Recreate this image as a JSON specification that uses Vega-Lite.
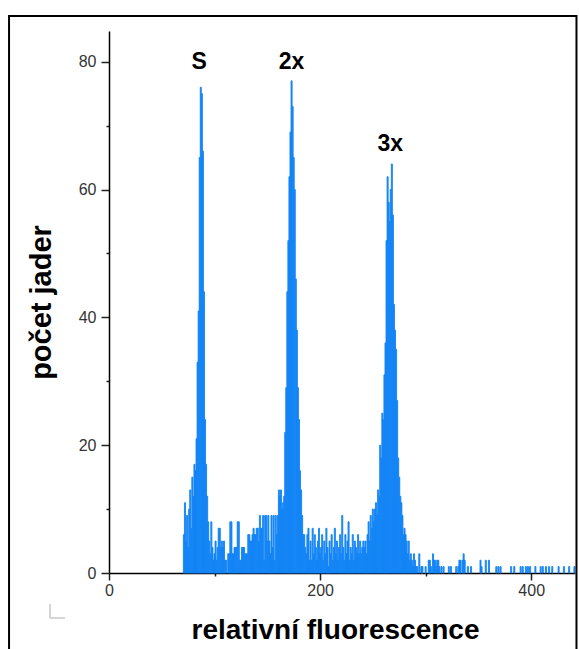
{
  "$schema": "https://vega.github.io/schema/vega-lite/v6.json",
  "width": 466,
  "height": 542,
  "autosize": {"type": "pad"},
  "padding": {"left": 8, "top": 14, "right": 0, "bottom": 0},
  "background": "white",
  "config": {
    "view": {"stroke": null},
    "font": "Liberation Sans",
    "axis": {
      "grid": false,
      "domainColor": "black",
      "domainWidth": 1.5,
      "tickColor": "#222",
      "tickWidth": 1.5,
      "labelFont": "Liberation Sans",
      "labelFontSize": 16,
      "labelColor": "#333",
      "labelFlush": false,
      "labelOverlap": false,
      "titleFont": "Liberation Sans",
      "titleFontSize": 28,
      "titleFontWeight": "bold",
      "titleColor": "black"
    }
  },
  "datasets": {
    "histogram": [
      {"ch": 70, "n": 6}, {"ch": 71, "n": 11}, {"ch": 72, "n": 5}, {"ch": 73, "n": 9}, {"ch": 74, "n": 4},
      {"ch": 75, "n": 10}, {"ch": 76, "n": 13}, {"ch": 77, "n": 7}, {"ch": 78, "n": 15}, {"ch": 79, "n": 12},
      {"ch": 80, "n": 17}, {"ch": 81, "n": 16}, {"ch": 82, "n": 21}, {"ch": 83, "n": 33}, {"ch": 84, "n": 41},
      {"ch": 85, "n": 65}, {"ch": 86, "n": 76}, {"ch": 87, "n": 75}, {"ch": 88, "n": 66}, {"ch": 89, "n": 44},
      {"ch": 90, "n": 24}, {"ch": 91, "n": 17}, {"ch": 92, "n": 12}, {"ch": 93, "n": 8}, {"ch": 94, "n": 5},
      {"ch": 95, "n": 3}, {"ch": 96, "n": 8}, {"ch": 97, "n": 4}, {"ch": 98, "n": 2}, {"ch": 99, "n": 3},
      {"ch": 100, "n": 5}, {"ch": 101, "n": 2}, {"ch": 102, "n": 4}, {"ch": 103, "n": 7}, {"ch": 104, "n": 7},
      {"ch": 105, "n": 4}, {"ch": 106, "n": 5}, {"ch": 107, "n": 4}, {"ch": 108, "n": 5}, {"ch": 109, "n": 2},
      {"ch": 110, "n": 2}, {"ch": 112, "n": 3}, {"ch": 113, "n": 3}, {"ch": 114, "n": 8},
      {"ch": 115, "n": 8}, {"ch": 116, "n": 3}, {"ch": 117, "n": 3}, {"ch": 118, "n": 4}, {"ch": 119, "n": 4},
      {"ch": 120, "n": 4}, {"ch": 121, "n": 8}, {"ch": 122, "n": 8}, {"ch": 123, "n": 2}, {"ch": 124, "n": 2},
      {"ch": 125, "n": 4}, {"ch": 126, "n": 4}, {"ch": 127, "n": 4}, {"ch": 128, "n": 3}, {"ch": 129, "n": 3},
      {"ch": 130, "n": 3}, {"ch": 131, "n": 6}, {"ch": 132, "n": 6}, {"ch": 133, "n": 5}, {"ch": 134, "n": 5},
      {"ch": 135, "n": 6}, {"ch": 136, "n": 7}, {"ch": 137, "n": 6}, {"ch": 138, "n": 6}, {"ch": 139, "n": 7},
      {"ch": 140, "n": 7}, {"ch": 141, "n": 5}, {"ch": 142, "n": 9}, {"ch": 143, "n": 7}, {"ch": 144, "n": 7},
      {"ch": 145, "n": 9}, {"ch": 146, "n": 2}, {"ch": 147, "n": 9}, {"ch": 148, "n": 9}, {"ch": 149, "n": 5},
      {"ch": 150, "n": 9}, {"ch": 151, "n": 5}, {"ch": 152, "n": 3}, {"ch": 153, "n": 9}, {"ch": 154, "n": 4},
      {"ch": 155, "n": 9}, {"ch": 156, "n": 2}, {"ch": 157, "n": 9}, {"ch": 158, "n": 6}, {"ch": 159, "n": 9},
      {"ch": 160, "n": 13}, {"ch": 161, "n": 12}, {"ch": 162, "n": 13}, {"ch": 163, "n": 10}, {"ch": 164, "n": 11},
      {"ch": 165, "n": 12}, {"ch": 166, "n": 22}, {"ch": 167, "n": 29}, {"ch": 168, "n": 44}, {"ch": 169, "n": 52},
      {"ch": 170, "n": 62}, {"ch": 171, "n": 69}, {"ch": 172, "n": 77}, {"ch": 173, "n": 73}, {"ch": 174, "n": 65},
      {"ch": 175, "n": 60}, {"ch": 176, "n": 46}, {"ch": 177, "n": 38}, {"ch": 178, "n": 29}, {"ch": 179, "n": 24},
      {"ch": 180, "n": 16}, {"ch": 181, "n": 13}, {"ch": 182, "n": 9}, {"ch": 183, "n": 6}, {"ch": 184, "n": 6},
      {"ch": 185, "n": 4}, {"ch": 186, "n": 3}, {"ch": 187, "n": 6}, {"ch": 188, "n": 7}, {"ch": 189, "n": 2},
      {"ch": 190, "n": 5}, {"ch": 191, "n": 2}, {"ch": 192, "n": 7}, {"ch": 193, "n": 3}, {"ch": 194, "n": 6},
      {"ch": 195, "n": 4}, {"ch": 196, "n": 2}, {"ch": 197, "n": 5}, {"ch": 198, "n": 7}, {"ch": 199, "n": 3},
      {"ch": 200, "n": 4}, {"ch": 201, "n": 6}, {"ch": 202, "n": 2}, {"ch": 203, "n": 5}, {"ch": 204, "n": 3},
      {"ch": 205, "n": 7}, {"ch": 206, "n": 4}, {"ch": 207, "n": 1}, {"ch": 208, "n": 5}, {"ch": 209, "n": 3},
      {"ch": 210, "n": 6}, {"ch": 211, "n": 2}, {"ch": 212, "n": 4}, {"ch": 213, "n": 7}, {"ch": 214, "n": 3},
      {"ch": 215, "n": 5}, {"ch": 216, "n": 2}, {"ch": 217, "n": 4}, {"ch": 218, "n": 6}, {"ch": 219, "n": 3},
      {"ch": 220, "n": 9}, {"ch": 221, "n": 4}, {"ch": 222, "n": 2}, {"ch": 223, "n": 6}, {"ch": 224, "n": 3},
      {"ch": 225, "n": 5}, {"ch": 226, "n": 8}, {"ch": 227, "n": 2}, {"ch": 228, "n": 4}, {"ch": 229, "n": 3},
      {"ch": 230, "n": 6}, {"ch": 231, "n": 2}, {"ch": 232, "n": 5}, {"ch": 233, "n": 4}, {"ch": 234, "n": 3},
      {"ch": 235, "n": 6}, {"ch": 236, "n": 3}, {"ch": 237, "n": 5}, {"ch": 238, "n": 3}, {"ch": 239, "n": 4},
      {"ch": 240, "n": 5}, {"ch": 241, "n": 4}, {"ch": 242, "n": 5}, {"ch": 243, "n": 3}, {"ch": 244, "n": 6},
      {"ch": 245, "n": 8}, {"ch": 246, "n": 5}, {"ch": 247, "n": 9}, {"ch": 248, "n": 7}, {"ch": 249, "n": 10},
      {"ch": 250, "n": 8}, {"ch": 251, "n": 10}, {"ch": 252, "n": 11}, {"ch": 253, "n": 9}, {"ch": 254, "n": 13},
      {"ch": 255, "n": 12}, {"ch": 256, "n": 20}, {"ch": 257, "n": 18}, {"ch": 258, "n": 25}, {"ch": 259, "n": 24},
      {"ch": 260, "n": 31}, {"ch": 261, "n": 36}, {"ch": 262, "n": 52}, {"ch": 263, "n": 62}, {"ch": 264, "n": 58},
      {"ch": 265, "n": 55}, {"ch": 266, "n": 60}, {"ch": 267, "n": 64}, {"ch": 268, "n": 56}, {"ch": 269, "n": 42},
      {"ch": 270, "n": 38}, {"ch": 271, "n": 35}, {"ch": 272, "n": 27}, {"ch": 273, "n": 18}, {"ch": 274, "n": 15},
      {"ch": 275, "n": 12}, {"ch": 276, "n": 11}, {"ch": 277, "n": 9}, {"ch": 278, "n": 6}, {"ch": 279, "n": 7},
      {"ch": 280, "n": 6}, {"ch": 281, "n": 5}, {"ch": 282, "n": 3}, {"ch": 283, "n": 5}, {"ch": 284, "n": 2},
      {"ch": 285, "n": 3}, {"ch": 286, "n": 2}, {"ch": 287, "n": 1}, {"ch": 288, "n": 3}, {"ch": 289, "n": 2},
      {"ch": 290, "n": 1}, {"ch": 291, "n": 1}, {"ch": 293, "n": 3}, {"ch": 295, "n": 1}, {"ch": 296, "n": 1},
      {"ch": 299, "n": 1}, {"ch": 302, "n": 2}, {"ch": 303, "n": 2}, {"ch": 304, "n": 1}, {"ch": 306, "n": 3},
      {"ch": 307, "n": 2}, {"ch": 308, "n": 2}, {"ch": 309, "n": 1}, {"ch": 310, "n": 2}, {"ch": 311, "n": 2},
      {"ch": 312, "n": 1}, {"ch": 314, "n": 1}, {"ch": 316, "n": 1}, {"ch": 321, "n": 1}, {"ch": 323, "n": 1},
      {"ch": 328, "n": 1}, {"ch": 330, "n": 1}, {"ch": 331, "n": 2}, {"ch": 332, "n": 2}, {"ch": 334, "n": 2},
      {"ch": 335, "n": 3}, {"ch": 336, "n": 2}, {"ch": 339, "n": 1}, {"ch": 342, "n": 1}, {"ch": 351, "n": 2},
      {"ch": 352, "n": 1}, {"ch": 356, "n": 2}, {"ch": 359, "n": 2}, {"ch": 366, "n": 1}, {"ch": 368, "n": 1},
      {"ch": 370, "n": 1}, {"ch": 380, "n": 1}, {"ch": 383, "n": 1}, {"ch": 389, "n": 1}, {"ch": 391, "n": 1},
      {"ch": 394, "n": 1}, {"ch": 396, "n": 1}, {"ch": 398, "n": 1}, {"ch": 403, "n": 1}, {"ch": 408, "n": 1},
      {"ch": 410, "n": 1}, {"ch": 413, "n": 1}, {"ch": 416, "n": 1}, {"ch": 419, "n": 1}, {"ch": 425, "n": 1},
      {"ch": 430, "n": 1}, {"ch": 435, "n": 1}, {"ch": 440, "n": 1}
    ],
    "peaks": [
      {"label": "S", "ch": 85.5, "n": 78.9},
      {"label": "2x", "ch": 173, "n": 78.9},
      {"label": "3x", "ch": 266.5, "n": 66}
    ],
    "single": [{}]
  },
  "layer": [
    {
      "data": {"name": "histogram"},
      "mark": {"type": "bar", "color": "#1484f5", "stroke": "#1484f5", "strokeWidth": 0.9, "binSpacing": 0},
      "encoding": {
        "x": {
          "field": "ch",
          "type": "quantitative",
          "bin": {"binned": true, "step": 1},
          "scale": {"domain": [0, 441.5], "nice": false, "zero": false},
          "axis": {
            "title": "relativní fluorescence",
            "values": [0, 100, 200, 300, 400],
            "labelExpr": "datum.value % 200 === 0 ? datum.label : ''",
            "tickSize": {"condition": {"test": "datum.value % 200 === 0", "value": 7}, "value": 3},
            "labelPadding": 2,
            "titleX": 226,
            "titleY": 65,
            "titleAlign": "center",
            "titleBaseline": "alphabetic"
          }
        },
        "y": {
          "field": "n",
          "type": "quantitative",
          "scale": {"domain": [0, 84.8], "nice": false},
          "axis": {
            "title": "počet jader",
            "values": [0, 10, 20, 30, 40, 50, 60, 70, 80],
            "labelExpr": "datum.value % 20 === 0 ? datum.label : ''",
            "tickSize": {"condition": {"test": "datum.value % 20 === 0", "value": 8}, "value": 3},
            "labelPadding": 5,
            "titleFontSize": 29,
            "titleAngle": -90,
            "titleX": -59,
            "titleY": 271,
            "titleAlign": "center",
            "titleBaseline": "alphabetic"
          }
        }
      }
    },
    {
      "data": {"name": "peaks"},
      "mark": {"type": "text", "font": "Liberation Sans", "fontSize": 23, "fontWeight": "bold", "color": "black", "align": "center", "baseline": "alphabetic"},
      "encoding": {
        "x": {"field": "ch", "type": "quantitative", "title": "relativní fluorescence"},
        "y": {"field": "n", "type": "quantitative", "title": "počet jader"},
        "text": {"field": "label"}
      }
    },
    {
      "data": {"name": "single"},
      "mark": {"type": "rect", "filled": false, "color": "black", "strokeWidth": 2},
      "encoding": {
        "x": {"datum": -94.7, "type": "quantitative"},
        "x2": {"datum": 442.9},
        "y": {"datum": 87.15, "type": "quantitative"},
        "y2": {"datum": -25}
      }
    },
    {
      "data": {"name": "single"},
      "mark": {"type": "rule", "color": "#c8c8c8", "strokeWidth": 1.5},
      "encoding": {
        "x": {"datum": -55.9, "type": "quantitative"},
        "y": {"datum": -4.85, "type": "quantitative"},
        "y2": {"datum": -7.04}
      }
    },
    {
      "data": {"name": "single"},
      "mark": {"type": "rule", "color": "#c8c8c8", "strokeWidth": 1.5},
      "encoding": {
        "x": {"datum": -55.9, "type": "quantitative"},
        "x2": {"datum": -41.7},
        "y": {"datum": -7.04, "type": "quantitative"}
      }
    }
  ]
}
